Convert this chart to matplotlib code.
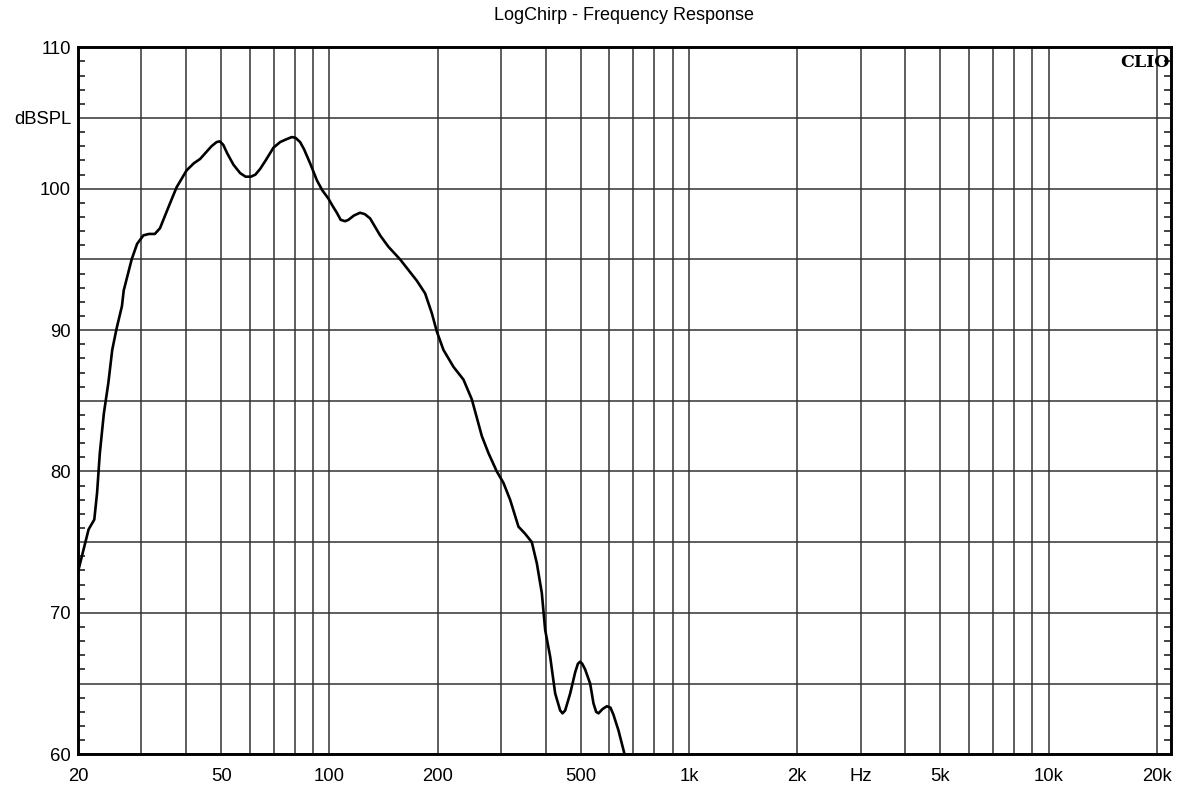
import numpy as np
import matplotlib
matplotlib.use("Agg")
import matplotlib.pyplot as plt
from matplotlib.ticker import FixedLocator, NullFormatter

freq = [20.0, 20.5, 21.4, 22.2, 22.6, 23.0, 23.6, 24.3, 24.9, 25.6, 26.5, 26.8,
        28.2, 29.2, 30.4, 31.5, 32.7, 33.8, 35.7, 37.6, 40.1, 42.0, 43.7, 45.5,
        47.0, 48.6, 49.6, 50.7, 52.0, 54.1, 56.5, 58.5, 60.5, 62.3, 64.2, 66.5,
        69.9, 73.0, 76.0, 78.6, 80.5, 82.9, 85.0, 88.4, 92.3, 95.5, 99.4, 102.0,
        104.9, 107.5, 110.6, 113.0, 117.0, 121.7, 125.5, 129.8, 138.4, 145.9,
        157.3, 175.0, 184.6, 192.7, 199.0, 207.6, 221.4, 236.0, 249.0, 265.5,
        277.0, 292.2, 304.8, 318.2, 335.6, 350.2, 365.6, 377.6, 389.8, 398.2,
        411.2, 424.6, 438.4, 445.0, 452.6, 467.4, 482.6, 491.0, 498.2, 505.0,
        514.4, 531.2, 542.6, 552.0, 560.4, 575.0, 591.2, 605.0, 616.6, 636.6,
        660.6]
spl = [72.9, 74.0, 75.9, 76.6, 78.5, 81.3, 84.1, 86.3, 88.6, 90.1, 91.7, 92.8,
       95.0, 96.1, 96.7, 96.8, 96.8, 97.2, 98.7, 100.1, 101.3, 101.8, 102.1, 102.6,
       103.0, 103.3, 103.35, 103.1, 102.5, 101.7, 101.1, 100.85, 100.85, 101.0, 101.4, 102.0,
       102.9, 103.3, 103.5, 103.65, 103.6, 103.3, 102.8, 101.8, 100.6, 99.9, 99.3, 98.8,
       98.3, 97.8, 97.7, 97.8, 98.1, 98.3, 98.2, 97.9, 96.7, 95.9,
       95.0, 93.5, 92.6, 91.2, 89.9, 88.6, 87.4, 86.5, 85.1, 82.5,
       81.3, 80.0, 79.2, 78.0, 76.1, 75.6, 75.0, 73.5, 71.4, 68.8,
       66.9, 64.3, 63.1, 62.9, 63.1, 64.3, 65.8,
       66.4, 66.55, 66.4, 66.0, 65.0, 63.6, 63.0, 62.9, 63.2, 63.4, 63.3, 62.8, 61.7,
       60.1]

label_freqs = [20, 50, 100, 200, 500, 1000, 2000, 3000, 5000, 10000, 20000]
label_texts = ["20", "50", "100", "200", "500", "1k", "2k", "Hz", "5k", "10k", "20k"]
grid_freqs = [30, 40, 60, 70, 80, 90, 300, 400, 600, 700, 800, 900,
              4000, 6000, 7000, 8000, 9000]
db_ticks = [60, 65, 70, 75, 80, 85, 90, 95, 100, 105, 110]
db_labels = ["60", "", "70", "", "80", "", "90", "", "100", "dBSPL", "110"]

plt.rcParams['font.family'] = ['Liberation Sans', 'DejaVu Sans']

fig = plt.figure(figsize=(11.78, 7.9), dpi=100)
ax = fig.add_axes([78 / 1178, 1 - 754.3 / 790, (1171 - 78) / 1178, (754.3 - 47.3) / 790])

ax.semilogx(freq, spl, color="black", linewidth=1.9, zorder=3,
            solid_joinstyle="round", solid_capstyle="round")

ax.set_xlim(20, 21900)
ax.set_ylim(60, 110)

# x axis: labels + grid
ax.xaxis.set_major_locator(FixedLocator(label_freqs))
ax.set_xticklabels(label_texts)
ax.xaxis.set_minor_locator(FixedLocator(grid_freqs))
ax.xaxis.set_minor_formatter(NullFormatter())
ax.tick_params(axis="x", which="both", length=0, labelsize=13.3, pad=10)

# y axis
ax.set_yticks(db_ticks)
ax.set_yticklabels(db_labels)
ax.yaxis.set_minor_locator(FixedLocator(np.arange(60, 111, 1)))
ax.tick_params(axis="y", which="major", length=0, labelsize=13.3, pad=5)
ax.tick_params(axis="y", which="minor", direction="in", length=5, width=1.2,
               left=True, right=True, color="#222222")

ax.grid(True, which="major", color="#333333", linewidth=1.1)
ax.grid(True, which="minor", axis="x", color="#333333", linewidth=1.1)

for side in ax.spines.values():
    side.set_linewidth(2.1)
    side.set_color("black")

ax.text(0.9985, 0.99, "CLIO", transform=ax.transAxes, ha="right", va="top",
        fontsize=12.5, fontweight="bold", family=["DejaVu Serif"])

fig.text(624.5 / 1178, 1 - 16 / 790, "LogChirp - Frequency Response",
         ha="center", va="center", fontsize=13)

fig.savefig("out.png", dpi=100)
